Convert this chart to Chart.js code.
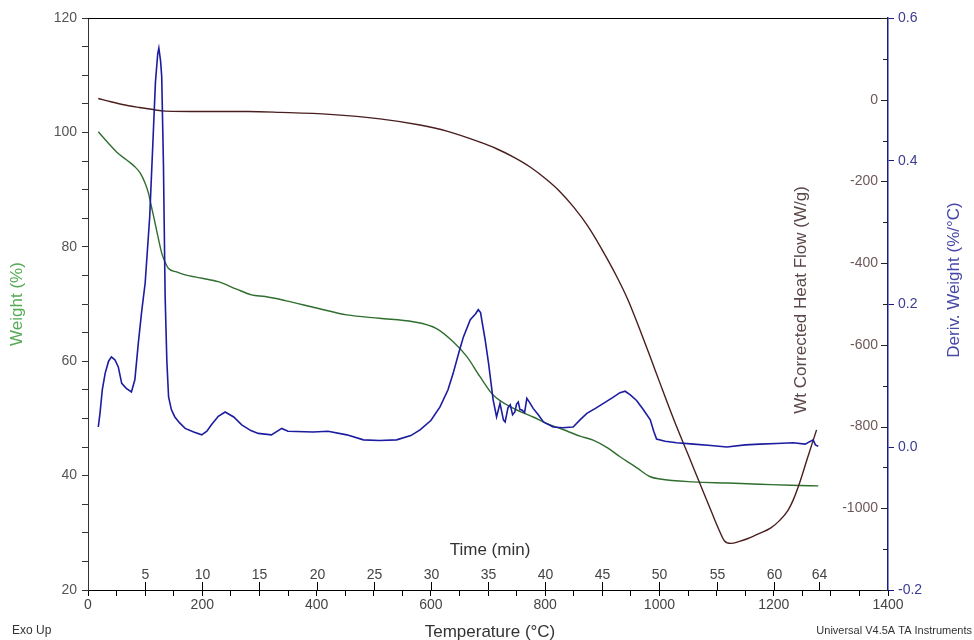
<!DOCTYPE html>
<html>
<head>
<meta charset="utf-8">
<script src="https://cdn.jsdelivr.net/npm/chart.js@4.4.1/dist/chart.umd.min.js"></script>
<style>
  html, body { margin: 0; padding: 0; background: #fff; }
  canvas { display: block; }
</style>
</head>
<body>
<canvas id="chart-canvas" width="974" height="640"></canvas>
<script>
// weight (%) vs temperature (°C)
var weightTemp = [18, 35, 53, 70, 82, 92, 100, 106, 111, 116, 120, 125, 129, 135, 141, 155, 170, 200, 228, 260, 286, 310, 345, 400, 453, 510, 569, 610, 639, 663, 686, 709, 744, 780, 803, 830, 861, 884, 910, 931, 960, 984, 1001, 1059, 1120, 1176, 1230, 1278];
var weightPct = [100.1, 98.2, 96.3, 95.0, 94.0, 92.8, 91.1, 89.3, 87.0, 84.8, 82.9, 80.6, 78.9, 77.3, 76.2, 75.6, 75.1, 74.5, 73.9, 72.6, 71.6, 71.3, 70.6, 69.3, 68.1, 67.5, 66.9, 65.7, 63.4, 60.8, 57.3, 54.1, 51.8, 50.2, 49.1, 48.1, 46.9, 46.2, 44.8, 43.3, 41.4, 39.8, 39.4, 38.9, 38.7, 38.5, 38.3, 38.2];

// wt corrected heat flow (W/g)
var heatTemp = [18, 40, 65, 90, 111, 135, 200, 281, 336, 423, 511, 581, 628, 686, 715, 744, 775, 803, 826, 850, 875, 900, 925, 945, 965, 984, 1000, 1030, 1050, 1071, 1090, 1104, 1114, 1125, 1140, 1155, 1176, 1195, 1211, 1225, 1234, 1246, 1258, 1275];
var heatFlow = [3, -5, -13, -19, -23.5, -28, -29, -29, -31, -36, -47, -62, -77, -104, -120, -140, -166, -196, -225, -263, -310, -368, -432, -490, -560, -630, -690, -800, -868, -940, -1005, -1052, -1080, -1086, -1081, -1074, -1061, -1048, -1029, -1005, -980, -935, -882, -808];

// deriv. weight (%/°C)
var derivTemp = [18, 21, 25, 30, 36, 41, 47, 53, 59, 67, 76, 82, 88, 94, 100, 108, 114, 118, 122, 124, 127, 129, 132, 135, 138, 141, 146, 152, 160, 170, 185, 199, 208, 216, 228, 240, 255, 269, 285, 298, 321, 339, 350, 394, 420, 453, 482, 510, 540, 565, 581, 600, 616, 630, 639, 650, 657, 669, 678, 683, 687, 689, 695, 701, 709, 715, 721, 727, 730, 735, 739, 743, 747, 750, 753, 756, 759, 764, 768, 773, 779, 788, 797, 814, 830, 849, 861, 873, 888, 902, 918, 931, 940, 949, 960, 972, 984, 990, 995, 1010, 1030, 1060, 1090, 1118, 1150, 1176, 1205, 1234, 1255, 1269, 1273, 1278];
var derivVal = [0.028, 0.047, 0.080, 0.103, 0.120, 0.126, 0.122, 0.112, 0.089, 0.082, 0.077, 0.094, 0.145, 0.190, 0.229, 0.322, 0.434, 0.510, 0.550, 0.558, 0.540, 0.518, 0.397, 0.210, 0.120, 0.070, 0.052, 0.042, 0.034, 0.026, 0.021, 0.017, 0.022, 0.031, 0.043, 0.049, 0.042, 0.031, 0.023, 0.019, 0.017, 0.026, 0.022, 0.021, 0.022, 0.017, 0.010, 0.009, 0.010, 0.016, 0.024, 0.037, 0.056, 0.080, 0.103, 0.135, 0.154, 0.178, 0.186, 0.192, 0.188, 0.178, 0.150, 0.117, 0.066, 0.042, 0.061, 0.038, 0.035, 0.055, 0.059, 0.045, 0.049, 0.060, 0.063, 0.052, 0.052, 0.048, 0.068, 0.062, 0.054, 0.045, 0.035, 0.028, 0.027, 0.028, 0.038, 0.047, 0.054, 0.061, 0.069, 0.076, 0.078, 0.073, 0.065, 0.052, 0.038, 0.022, 0.011, 0.008, 0.006, 0.004, 0.002, 0.000, 0.003, 0.004, 0.005, 0.006, 0.004, 0.010, 0.003, 0.001];

// axis ticks
var timeTicks = [5, 10, 15, 20, 25, 30, 35, 40, 45, 50, 55, 60, 64];
var heatLabels = [0, -200, -400, -600, -800, -1000];

var FONT = '"Liberation Sans", Arial, sans-serif';

function pts(xs, ys) {
  var out = [];
  for (var i = 0; i < xs.length; i++) out.push({ x: xs[i], y: ys[i] });
  return out;
}

var extras = {
  id: 'extras',
  afterDraw: function (chart) {
    var c = chart.ctx;
    var a = chart.chartArea;
    var xt = chart.scales.xt;
    var yH = chart.scales.yH;
    c.save();
    c.lineWidth = 1;

    // top frame
    c.strokeStyle = '#000';
    c.beginPath();
    c.moveTo(a.left, a.top + 0.5);
    c.lineTo(a.right, a.top + 0.5);
    c.stroke();

    // time axis (inside plot, on the temperature axis line)
    c.font = '14px ' + FONT;
    c.fillStyle = '#444';
    c.textAlign = 'center';
    c.textBaseline = 'bottom';
    timeTicks.forEach(function (t) {
      var px = Math.round(xt.getPixelForValue(t)) + 0.5;
      c.beginPath();
      c.moveTo(px, a.bottom);
      c.lineTo(px, a.bottom - 8);
      c.stroke();
      c.fillText(String(t), px, a.bottom - 8);
    });
    c.font = '17px ' + FONT;
    c.fillStyle = '#333';
    c.fillText('Time (min)', 490, 559);

    // heat flow axis, labels inside on the left of the right border
    c.strokeStyle = '#222';
    for (var v = -1200; v <= 200; v += 100) {
      var py = Math.round(yH.getPixelForValue(v)) + 0.5;
      c.beginPath();
      c.moveTo(a.right, py);
      c.lineTo(a.right - (v % 200 === 0 ? 7 : 5), py);
      c.stroke();
    }
    c.font = '14px ' + FONT;
    c.fillStyle = '#6e5858';
    c.textAlign = 'right';
    c.textBaseline = 'middle';
    heatLabels.forEach(function (v) {
      c.fillText(String(v), a.right - 10, yH.getPixelForValue(v));
    });

    // rotated titles on the right
    c.font = '17px ' + FONT;
    c.textAlign = 'center';
    c.textBaseline = 'middle';
    c.save();
    c.translate(801, 300);
    c.rotate(-Math.PI / 2);
    c.fillStyle = '#5a4848';
    c.fillText('Wt Corrected Heat Flow (W/g)', 0, 0);
    c.restore();
    c.save();
    c.translate(954, 280);
    c.rotate(-Math.PI / 2);
    c.fillStyle = '#4848a8';
    c.fillText('Deriv. Weight (%/°C)', 0, 0);
    c.restore();

    // bottom texts
    c.fillStyle = '#333';
    c.textBaseline = 'middle';
    c.font = '17px ' + FONT;
    c.fillText('Temperature (°C)', 490, 632);
    c.font = '12px ' + FONT;
    c.textAlign = 'left';
    c.fillText('Exo Up', 12, 631);
    c.font = '11px ' + FONT;
    c.textAlign = 'right';
    c.fillText('Universal V4.5A TA Instruments', 972, 631);
    c.restore();
  }
};

var ctx = document.getElementById('chart-canvas').getContext('2d');

var chart = new Chart(ctx, {
  type: 'line',
  data: {
    datasets: [
      {
        label: 'Deriv. Weight',
        data: pts(derivTemp, derivVal),
        yAxisID: 'yD',
        borderColor: '#1c1ca0',
        borderWidth: 1.6,
        pointRadius: 0,
        tension: 0
      },
      {
        label: 'Heat Flow',
        data: pts(heatTemp, heatFlow),
        yAxisID: 'yH',
        borderColor: '#4a1e1e',
        borderWidth: 1.4,
        pointRadius: 0,
        cubicInterpolationMode: 'monotone'
      },
      {
        label: 'Weight',
        data: pts(weightTemp, weightPct),
        yAxisID: 'yW',
        borderColor: '#2f6e2f',
        borderWidth: 1.4,
        pointRadius: 0,
        cubicInterpolationMode: 'monotone'
      }
    ]
  },
  options: {
    responsive: false,
    animation: false,
    events: [],
    layout: { padding: { top: 18, left: 0, right: 0, bottom: 0 } },
    plugins: { legend: { display: false }, tooltip: { enabled: false } },
    scales: {
      x: {
        type: 'linear',
        position: 'bottom',
        min: 0,
        max: 1400,
        afterFit: function (s) { s.height = 50; },
        border: { display: true, color: '#000', width: 1 },
        grid: { drawOnChartArea: false, drawTicks: true, tickLength: 6, color: '#000' },
        ticks: {
          stepSize: 50,
          autoSkip: false,
          maxRotation: 0,
          padding: 1,
          color: '#444',
          font: { family: FONT, size: 14 },
          callback: function (v) { return v % 200 === 0 ? String(v) : ''; }
        }
      },
      xt: {
        type: 'linear',
        position: 'bottom',
        display: false,
        min: 0,
        max: 70
      },
      yW: {
        type: 'linear',
        position: 'left',
        min: 20,
        max: 120,
        afterFit: function (s) { s.width = 88; },
        border: { display: true, color: '#333', width: 1 },
        grid: { drawOnChartArea: false, drawTicks: true, tickLength: 6, color: '#333' },
        ticks: {
          stepSize: 5,
          autoSkip: false,
          padding: 5,
          color: '#555',
          font: { family: FONT, size: 14 },
          callback: function (v) { return v % 20 === 0 ? String(v) : ''; }
        },
        title: {
          display: true,
          text: 'Weight (%)',
          color: '#55aa55',
          font: { family: FONT, size: 17 },
          padding: { top: 7, bottom: 0 }
        }
      },
      yH: {
        type: 'linear',
        position: 'right',
        display: false,
        min: -1200,
        max: 200
      },
      yD: {
        type: 'linear',
        position: 'right',
        min: -0.2,
        max: 0.6,
        afterFit: function (s) { s.width = 86; },
        border: { display: true, color: '#1a1a8a', width: 1.5 },
        grid: { drawOnChartArea: false, drawTicks: true, tickLength: 6, color: '#1a1a8a' },
        ticks: {
          stepSize: 0.2,
          autoSkip: false,
          padding: 4,
          color: '#3c3c90',
          font: { family: FONT, size: 14 },
          callback: function (v) { return Number(v).toFixed(1); }
        }
      }
    }
  },
  plugins: [extras]
});
</script>
</body>
</html>
